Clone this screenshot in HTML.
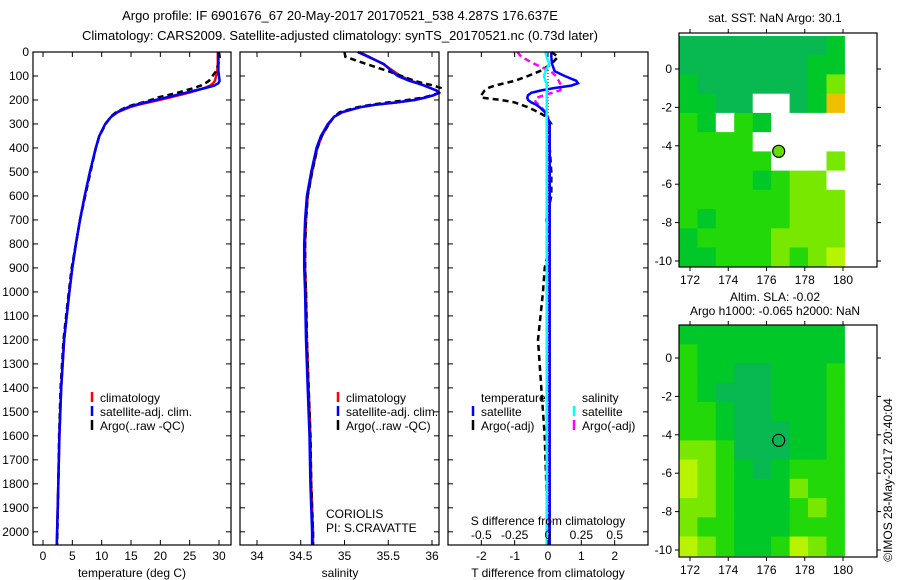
<!DOCTYPE html>
<html><head><meta charset="utf-8"><style>
body{margin:0;background:#fff}
svg{display:block;font-family:"Liberation Sans",sans-serif;font-size:12px}
</style></head><body>
<svg id="s" width="900" height="580" xmlns="http://www.w3.org/2000/svg">
<text x="340" y="20" text-anchor="middle" font-size="13">Argo profile: IF 6901676_67 20-May-2017 20170521_538 4.287S 176.637E</text>
<text x="340" y="40" text-anchor="middle" font-size="13">Climatology: CARS2009. Satellite-adjusted climatology: synTS_20170521.nc (0.73d later)</text>
<text x="775" y="22" text-anchor="middle">sat. SST: NaN Argo: 30.1</text>
<text x="775" y="301" text-anchor="middle">Altim. SLA: -0.02</text>
<text x="775" y="315" text-anchor="middle">Argo h1000: -0.065 h2000: NaN</text>
<text transform="translate(892,480) rotate(-90)" text-anchor="middle">©IMOS 28-May-2017 20:40:04</text>
<g id="g"></g>
</svg>
<script>
const depths=[0,20,50,80,100,120,130,140,150,160,170,180,190,200,210,220,230,250,270,300,350,400,500,600,700,800,900,1000,1200,1400,1600,1800,2000,2055];
const tClim=[29.8,29.8,29.8,29.7,29.5,29.3,29.0,28.5,27.5,26.2,24.8,23.2,21.5,19.8,18.0,16.2,14.8,12.8,11.6,10.6,9.6,9.0,8.0,7.1,6.3,5.6,5.0,4.5,3.6,3.1,2.8,2.6,2.4,2.35];
const tSat=[29.9,29.9,29.9,29.9,30.0,30.1,29.9,29.2,27.7,26.0,24.3,22.6,20.9,19.2,17.5,15.8,14.5,12.7,11.6,10.6,9.6,9.0,8.0,7.1,6.3,5.6,5.0,4.5,3.6,3.1,2.8,2.6,2.4,2.35];
const tArgo=[30.0,30.1,29.9,29.5,28.9,28.3,27.7,26.9,25.7,24.3,22.9,21.2,19.5,18.4,17.0,15.4,14.2,12.5,11.5,10.7,9.6,9.0,8.1,7.2,6.3,5.6,4.9,4.4,3.5,3.0,2.75,2.6,2.45,2.4];
const sClim=[35.17,35.28,35.44,35.56,35.64,35.76,35.84,35.92,35.98,36.05,36.08,36.02,35.92,35.80,35.60,35.35,35.18,34.98,34.88,34.82,34.74,34.69,34.63,34.58,34.56,34.55,34.55,34.56,34.57,34.59,34.61,34.62,34.64,34.64];
const sSat=[35.15,35.27,35.45,35.54,35.61,35.74,35.83,35.91,35.98,36.05,36.08,36.02,35.92,35.80,35.60,35.35,35.18,34.98,34.88,34.81,34.73,34.68,34.62,34.57,34.55,34.54,34.54,34.55,34.56,34.58,34.60,34.61,34.63,34.63];
const sArgo=[35.0,35.01,35.25,35.5,35.65,35.8,35.9,36.02,36.1,36.1,36.08,36.0,35.9,35.72,35.5,35.3,35.15,34.95,34.88,34.82,34.74,34.69,34.63,34.58,34.56,34.55,34.55,34.56,34.57,34.59,34.61,34.62,34.64,34.64];
const dTsat=[0.1,0.1,0.12,0.2,0.5,0.85,0.9,0.7,0.2,-0.2,-0.5,-0.6,-0.62,-0.6,-0.5,-0.35,-0.25,-0.1,-0.03,0.05,0.05,0.05,0.05,0.05,0.05,0.05,0.05,0.05,0.05,0.05,0.05,0.05,0.05,0.05];
const dTargo=[0.1,0.3,0.1,-0.25,-0.6,-1.0,-1.3,-1.6,-1.8,-1.9,-1.95,-2.0,-2.0,-1.4,-1.0,-0.8,-0.6,-0.3,-0.05,0.1,-0.05,0.05,0.1,0.1,-0.05,0.05,-0.1,-0.15,-0.3,-0.2,-0.1,-0.05,0,0];
const dSsat=[-0.02,-0.01,0.01,-0.02,-0.03,-0.02,-0.01,-0.01,-0.01,-0.01,-0.01,-0.01,-0.01,-0.01,-0.01,-0.01,-0.01,-0.01,-0.01,-0.01,-0.01,-0.01,-0.01,-0.01,-0.01,-0.01,-0.01,-0.01,-0.01,-0.01,-0.01,-0.01,-0.01,-0.01];
const dSargo=[-0.23,-0.2,-0.1,0.02,0.06,0.08,0.09,0.1,0.1,0.09,0.03,-0.03,-0.08,-0.1,-0.09,-0.07,-0.05,-0.02,0,0.01,0.01,0.01,0.01,0.01,0.01,0.01,0.01,0.01,0.01,0.01,0.01,0.01,0.01,0.01];
const depthTicks=[0,100,200,300,400,500,600,700,800,900,1000,1100,1200,1300,1400,1500,1600,1700,1800,1900,2000];
const tTicks=[0,5,10,15,20,25,30];
const sTicks=[34,34.5,35,35.5,36];
const dTTicks=[-2,-1,0,1,2];
const dSTicks=["-0.5","-0.25","0","0.25","0.5"];
const lonTicks=[172,174,176,178,180];
const latTicks=[0,-2,-4,-6,-8,-10];
const sstGrid=["aaaaaaaab","aaaaaaabb","baaaaaabd","bbaawwabo","cbwcbwwww","ccccwwwww","cccccwwwd","ccccbcddw","ccccccddd","cbccccddd","bccccdddd","bbcccdcde"];
const slaGrid=["bbbbbbbbb","cbbbbbbbb","cbbaabbbc","cbaaabbbc","ccbaabbbc","ccbaaabbc","ddcaaabbc","edcbabccc","edcbbbdcc","ddcbbbcdc","dccbbbccc","edcbbcedc"];
const colorMap={a:"#08b850",b:"#00c828",c:"#22d808",d:"#78e800",e:"#b8f400",o:"#f0c000",w:"#ffffff"};
const argoLon=176.637, argoLat=-4.287;

const NS="http://www.w3.org/2000/svg";
const G=document.getElementById('g');
function mk(tag,at,parent){const e=document.createElementNS(NS,tag);for(const k in at)e.setAttribute(k,at[k]);(parent||G).appendChild(e);return e;}
const Y0=52,Y1=545,DMAX=2055;
const yD=d=>Y0+d/DMAX*(Y1-Y0);
function lin(d0,d1,p0,p1){return v=>p0+(v-d0)/(d1-d0)*(p1-p0);}
function poly(xs,fx,color,dash,name){
  const pts=xs.map((v,i)=>fx(v).toFixed(1)+","+yD(depths[i]).toFixed(1)).join(" ");
  const e=mk('polyline',{points:pts,fill:"none",stroke:color,"stroke-width":2.5});
  if(dash)e.setAttribute('stroke-dasharray',dash);
  
  
}
function box(x0,x1,y0,y1,name){
  const r=mk('rect',{x:x0,y:y0,width:x1-x0,height:y1-y0,fill:"none",stroke:"#000","stroke-width":1.2});
  
  
}
function txt(x,y,s,anchor,name){
  const t=mk('text',{x:x,y:y,"text-anchor":anchor||"start"});t.textContent=s;
  
  
  return t;
}
function depthTicksFor(x0,x1,labels){
  depthTicks.forEach(d=>{const y=yD(d);
    mk('line',{x1:x0,y1:y,x2:x0+5,y2:y,stroke:"#000"});
    mk('line',{x1:x1,y1:y,x2:x1-5,y2:y,stroke:"#000"});
    if(labels)txt(x0-4,y+4,String(d),"end","depth-tick-label");
  });
}
function xTicks(vals,fx,labels,ylab){
  vals.forEach((v,i)=>{const x=fx(+v);
    mk('line',{x1:x,y1:Y1,x2:x,y2:Y1-5,stroke:"#000"});
    mk('line',{x1:x,y1:Y0,x2:x,y2:Y0+5,stroke:"#000"});
    if(labels)txt(x,ylab,labels[i],"middle","x-tick-label");
  });
}
function legBar(x,y,c){const l=mk('line',{x1:x,y1:y-9,x2:x,y2:y+1,stroke:c,"stroke-width":2.5});
  
  }

// Panel 1 temperature
const fT=lin(0,30,43,219);
poly(tClim,fT,"#f00",null,"temp-climatology-line");
poly(tArgo,fT,"#000","6,4","temp-argo-line");
poly(tSat,fT,"#00f",null,"temp-satellite-line");
box(33,231,Y0,Y1,"temperature-panel");
depthTicksFor(33,231,true);
xTicks(tTicks,fT,tTicks.map(String),560);
txt(132,577,"temperature (deg C)","middle","temperature-axis-title");
legBar(92,401,"#f00");txt(100,402,"climatology","start","legend-climatology");
legBar(92,415,"#00f");txt(100,416,"satellite-adj. clim.","start","legend-satellite");
legBar(92,429,"#000");txt(100,430,"Argo(..raw -QC)","start","legend-argo");

// Panel 2 salinity
const fS=lin(34,36,257,432);
poly(sClim,fS,"#f00",null,"sal-climatology-line");
poly(sArgo,fS,"#000","6,4","sal-argo-line");
poly(sSat,fS,"#00f",null,"sal-satellite-line");
box(240,439,Y0,Y1,"salinity-panel");
depthTicksFor(240,439,false);
xTicks(sTicks,fS,sTicks.map(String),560);
txt(340,577,"salinity","middle","salinity-axis-title");
legBar(338,401,"#f00");txt(346,402,"climatology","start","legend-climatology-2");
legBar(338,415,"#00f");txt(346,416,"satellite-adj. clim.","start","legend-satellite-2");
legBar(338,429,"#000");txt(346,430,"Argo(..raw -QC)","start","legend-argo-2");
txt(326,518,"CORIOLIS","start","data-centre-label");
txt(326,532,"PI: S.CRAVATTE","start","pi-label");

// Panel 3 differences
const fD=lin(-3,3,448,648);
const fDS=v=>fD(v*4);
const z=mk('line',{x1:fD(0),y1:Y0,x2:fD(0),y2:Y1,stroke:"#000","stroke-dasharray":"1,2"});


poly(dTargo,fD,"#000","6,4","tdiff-argo-line");
poly(dSargo,fDS,"#f0f","6,4","sdiff-argo-line");
poly(dTsat,fD,"#00f",null,"tdiff-satellite-line");
poly(dSsat,fDS,"#0ff",null,"sdiff-satellite-line");
box(448,648,Y0,Y1,"difference-panel");
depthTicksFor(448,648,false);
xTicks(dTTicks,fD,dTTicks.map(String),560);
dSTicks.forEach(s=>txt(fDS(+s),539,s,"middle","s-diff-tick-label"));
txt(548,525,"S difference from climatology","middle","s-diff-axis-title");
txt(548,577,"T difference from climatology","middle","t-diff-axis-title");
txt(481,402,"temperature","start","legend-temperature-head");
txt(582,402,"salinity","start","legend-salinity-head");
legBar(473,415,"#00f");txt(481,416,"satellite","start","legend-t-satellite");
legBar(473,429,"#000");txt(481,430,"Argo(-adj)","start","legend-t-argo");
legBar(574,415,"#0ff");txt(582,416,"satellite","start","legend-s-satellite");
legBar(574,429,"#f0f");txt(582,430,"Argo(-adj)","start","legend-s-argo");

// Maps
function map(grid,top,bot,lat0y,lat10y,name,fillCircle){
  const fx=lin(172,180,690,843), fy=lin(0,-10,lat0y,lat10y);
  const lonW=180.1, lonE=171.42, latN=1.72, latS=-10.3;
  const nr=grid.length, nc=grid[0].length;
  const dLon=(lonW-lonE)/nc, dLat=(latN-latS)/nr;
  grid.forEach((row,r)=>{[...row].forEach((ch,c)=>{
    const x=fx(lonE+c*dLon), x2=fx(lonE+(c+1)*dLon), y=fy(latN-r*dLat), y2=fy(latN-(r+1)*dLat);
    const e=mk('rect',{x:x.toFixed(1),y:y.toFixed(1),width:(x2-x+0.5).toFixed(1),height:(y2-y+0.5).toFixed(1),fill:colorMap[ch]});
    
    
  });});
  const c=mk('circle',{cx:fx(argoLon),cy:fy(argoLat),r:6,fill:fillCircle||"none",stroke:"#000","stroke-width":1.2});
  
  
  mk('rect',{x:fx(180.1),y:top,width:877-fx(180.1),height:bot-top,fill:"#fff"});
  box(679,877,top,bot,name);
  lonTicks.forEach(v=>{const x=fx(v);mk('line',{x1:x,y1:top,x2:x,y2:top-4,stroke:"#000"});
    mk('line',{x1:x,y1:bot,x2:x,y2:bot+4,stroke:"#000"});
    txt(x,bot+17,String(v),"middle","lon-tick-label");});
  latTicks.forEach(v=>{const y=fy(v);mk('line',{x1:679,y1:y,x2:675,y2:y,stroke:"#000"});
    mk('line',{x1:877,y1:y,x2:881,y2:y,stroke:"#000"});
    txt(672,y+4,String(v),"end","lat-tick-label");});
}
map(sstGrid,33,267,69,261,"sst-map","#66dd00");
map(slaGrid,325,557,358,550,"sla-map",null);
</script>
</body></html>
